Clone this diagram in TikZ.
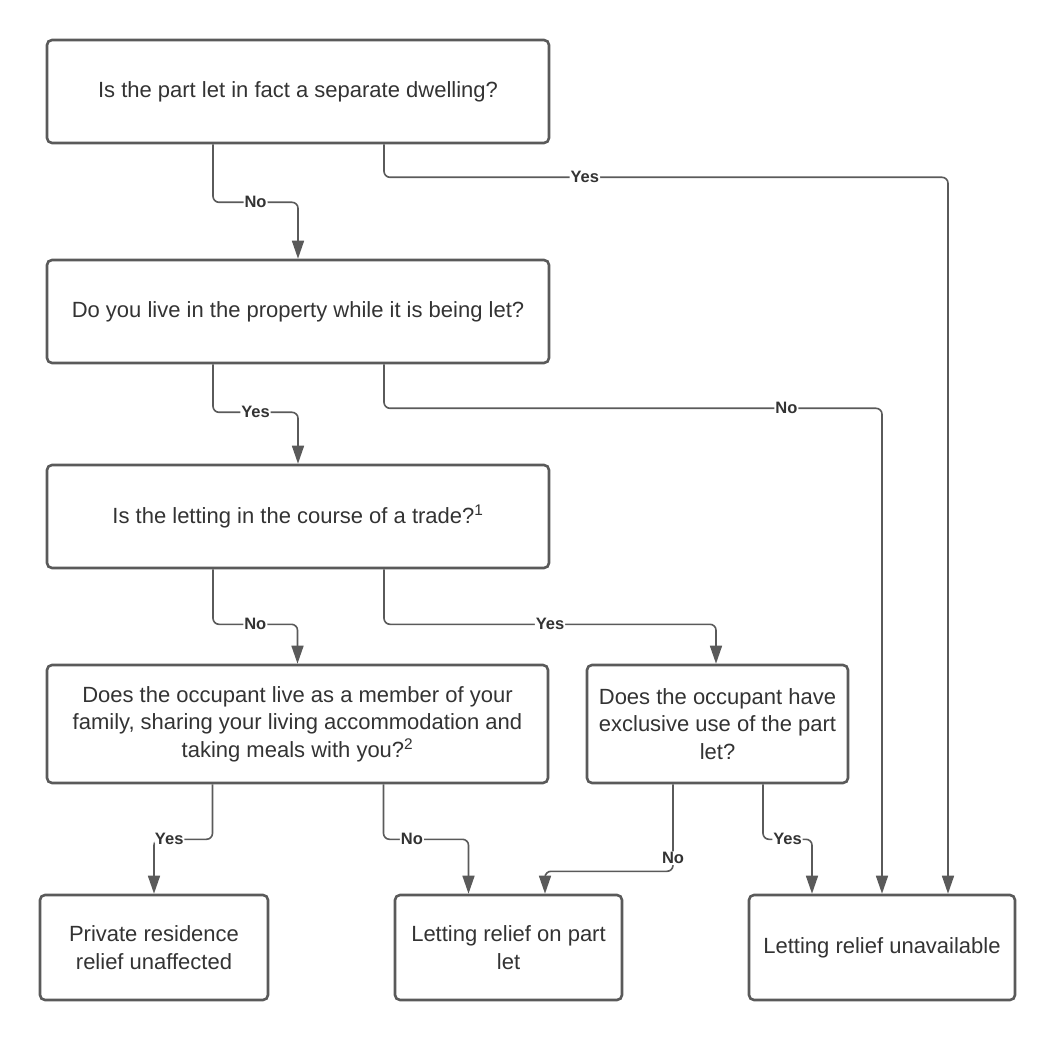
\documentclass[tikz,border=0pt]{standalone}
\usepackage{fontspec}
\setmainfont{Liberation Sans}
\usetikzlibrary{arrows.meta}
\definecolor{linegray}{HTML}{5A5A5A}
\definecolor{textdark}{HTML}{333333}
\tikzset{
  box/.style={draw=linegray,line width=2.6pt,rounded corners=5pt,fill=white,
    text=textdark,align=center,font=\fontsize{22}{27.5}\selectfont},
  link/.style={draw=linegray,line width=1.6pt,rounded corners=6pt,
    -{Triangle[length=18pt,width=12pt]}},
  lab/.style={fill=white,inner sep=1pt,text=textdark,
    font=\bfseries\fontsize{16.5}{16.5}\selectfont}
}
\begin{document}
\begin{tikzpicture}[x=1pt,y=-1pt]
\useasboundingbox (0,0) rectangle (1055,1040);
% questions
\node[box,minimum width=502pt,minimum height=103pt] (q1) at (298,91.5) {Is the part let in fact a separate dwelling?};
\node[box,minimum width=502pt,minimum height=103pt] (q2) at (298,311.5) {Do you live in the property while it is being let?};
\node[box,minimum width=502pt,minimum height=103pt] (q3) at (298,516.5) {Is the letting in the course of a trade?\textsuperscript{1}};
\node[box,minimum width=501pt,minimum height=118pt] (q4) at (297.5,724) {Does the occupant live as a member of your\\ family, sharing your living accommodation and\\ taking meals with you?\textsuperscript{2}};
\node[box,minimum width=261pt,minimum height=118pt] (q5) at (717.5,724) {Does the occupant have\\ exclusive use of the part\\ let?};
% results
\node[box,minimum width=228pt,minimum height=105pt] (r1) at (154,947.5) {Private residence\\ relief unaffected};
\node[box,minimum width=227pt,minimum height=105pt] (r2) at (508.5,947.5) {Letting relief on part\\ let};
\node[box,minimum width=266pt,minimum height=105pt] (r3) at (882,947.5) {Letting relief unavailable};
% connectors
\draw[link] ([xshift=-85pt]q1.south) -- ++(0,58) -| node[lab,pos=0.25] {No} (q2.north);
\draw[link] ([xshift=86pt]q1.south) -- ++(0,33) -| node[lab,pos=0.178] {Yes} ([xshift=66pt]r3.north);
\draw[link] ([xshift=-85pt]q2.south) -- ++(0,48) -| node[lab,pos=0.25] {Yes} (q3.north);
\draw[link] ([xshift=86pt]q2.south) -- ++(0,44) -| node[lab,pos=0.404] {No} (r3.north);
\draw[link] ([xshift=-85pt]q3.south) -- ++(0,55) -| node[lab,pos=0.25] {No} (q4.north);
\draw[link] ([xshift=86pt]q3.south) -- ++(0,55) -| node[lab,pos=0.25] {Yes} ([xshift=-1.5pt]q5.north);
\draw[link] ([xshift=-85pt]q4.south) -- ++(0,55) -| node[lab,pos=0.37] {Yes} (r1.north);
\draw[link] ([xshift=86pt]q4.south) -- ++(0,55) -| node[lab,pos=0.167] {No} ([xshift=-40pt]r2.north);
\draw[link] ([xshift=-44.5pt]q5.south) -- node[lab,pos=0.85] {No} ++(0,87) -| ([xshift=36.5pt]r2.north);
\draw[link] ([xshift=45.5pt]q5.south) -- ++(0,55) -| node[lab,pos=0.25] {Yes} ([xshift=-70pt]r3.north);
\end{tikzpicture}
\end{document}
